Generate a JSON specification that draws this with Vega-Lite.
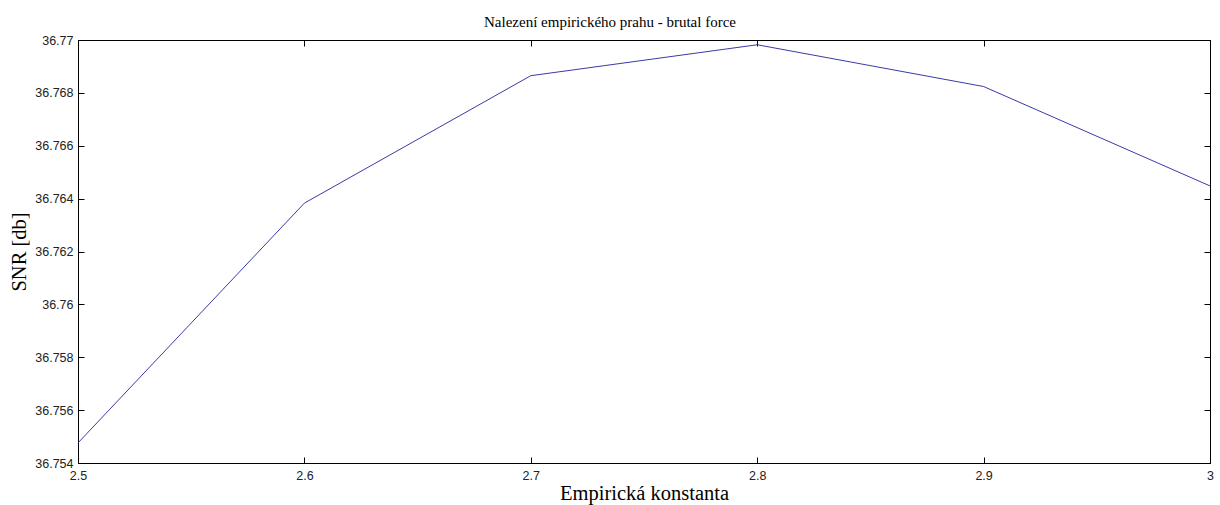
{
  "$schema": "https://vega.github.io/schema/vega-lite/v6.json",
  "autosize": {"type": "none"},
  "padding": {"left": 78, "top": 40, "right": 10, "bottom": 42},
  "width": 1132,
  "height": 423,
  "background": "white",
  "title": {
    "text": "Nalezení empirického prahu - brutal force",
    "font": "Liberation Serif",
    "fontSize": 15,
    "fontWeight": "normal",
    "color": "#000000",
    "offset": 4,
    "dx": -34,
    "anchor": "middle"
  },
  "config": {
    "view": {"stroke": "#000000", "strokeWidth": 1},
    "axis": {
      "grid": false,
      "domain": true,
      "domainColor": "#000000",
      "tickColor": "#000000",
      "tickSize": -6,
      "labelFlush": false,
      "labelFont": "Liberation Sans",
      "labelFontSize": 12.5,
      "labelColor": "#222222",
      "titleFont": "Liberation Serif",
      "titleFontSize": 20.5,
      "titleFontWeight": "normal",
      "titleColor": "#000000"
    }
  },
  "data": {
    "values": [
      {"k": 2.5, "snr": 36.75476},
      {"k": 2.6, "snr": 36.76383},
      {"k": 2.7, "snr": 36.76865},
      {"k": 2.8, "snr": 36.76982},
      {"k": 2.9, "snr": 36.76824},
      {"k": 3.0, "snr": 36.76448}
    ]
  },
  "encoding": {
    "x": {
      "field": "k",
      "type": "quantitative",
      "scale": {"domain": [2.5, 3.0], "nice": false, "zero": false},
      "axis": {
        "values": [2.5, 2.6, 2.7, 2.8, 2.9, 3.0],
        "format": "~g",
        "labelPadding": 12,
        "title": "Empirická konstanta",
        "titlePadding": 2
      }
    },
    "y": {
      "field": "snr",
      "type": "quantitative",
      "scale": {"domain": [36.754, 36.77], "nice": false, "zero": false},
      "axis": {
        "values": [36.754, 36.756, 36.758, 36.76, 36.762, 36.764, 36.766, 36.768, 36.77],
        "format": ".6~g",
        "labelPadding": 11,
        "title": "SNR [db]",
        "titlePadding": 5
      }
    }
  },
  "layer": [
    {
      "mark": {"type": "line", "color": "#3a3aa8", "strokeWidth": 1}
    },
    {
      "mark": {"type": "line", "opacity": 0},
      "encoding": {
        "x": {
          "field": "k",
          "type": "quantitative",
          "scale": {"domain": [2.5, 3.0], "nice": false, "zero": false},
          "axis": {"orient": "top", "values": [2.5, 2.6, 2.7, 2.8, 2.9, 3.0], "labels": false, "title": null}
        },
        "y": {
          "field": "snr",
          "type": "quantitative",
          "scale": {"domain": [36.754, 36.77], "nice": false, "zero": false},
          "axis": {"orient": "right", "values": [36.754, 36.756, 36.758, 36.76, 36.762, 36.764, 36.766, 36.768, 36.77], "labels": false, "title": null}
        }
      }
    }
  ],
  "resolve": {"axis": {"x": "independent", "y": "independent"}}
}
